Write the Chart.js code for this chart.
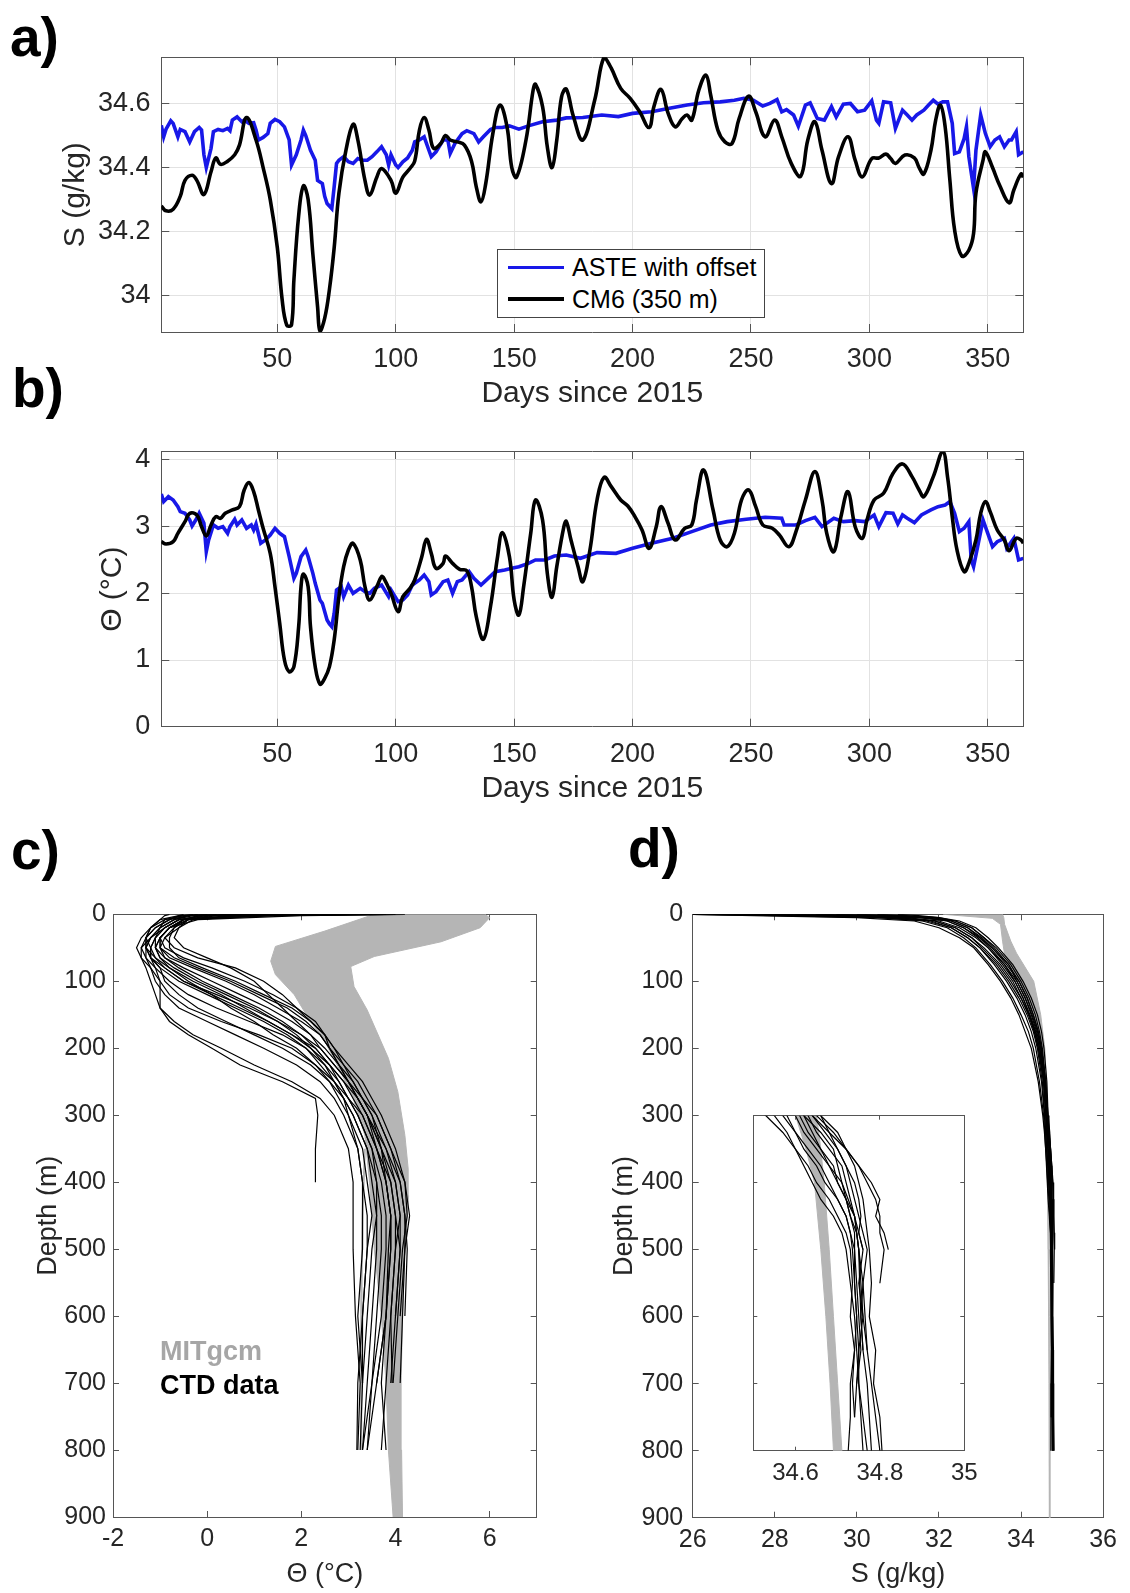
<!DOCTYPE html>
<html>
<head>
<meta charset="utf-8">
<title>ASTE / CM6 / CTD comparison</title>
<script src="https://cdn.jsdelivr.net/npm/chart.js@4.4.1/dist/chart.umd.min.js"></script>
<style>
  html, body { margin: 0; padding: 0; background: #fff; }
  body { position: relative; width: 1130px; height: 1593px; overflow: hidden;
         font-family: "Liberation Sans", Arial, Helvetica, sans-serif; color: #000; }
  canvas { position: absolute; }
  .tag { position: absolute; z-index: 5; font-weight: bold; font-size: 55px; line-height: 55px; }
  .legend { position: absolute; z-index: 5; left: 497px; top: 249px; width: 266px; height: 67px;
            border: 1px solid #444; background: #fff; font-size: 25px; }
  .legend .swatch { position: absolute; left: 10px; width: 56px; height: 3.5px; }
  .legend .label { position: absolute; left: 74px; line-height: 30px; white-space: nowrap; }
  .note { position: absolute; z-index: 5; left: 160px; font-weight: bold; font-size: 27px; line-height: 27px; }
</style>
</head>
<body>
<canvas id="panelA"></canvas>
<canvas id="panelB"></canvas>
<canvas id="panelC"></canvas>
<canvas id="panelD"></canvas>
<canvas id="panelInset"></canvas>

<div class="tag" style="left:10px;top:10px">a)</div>
<div class="tag" style="left:12px;top:361px">b)</div>
<div class="tag" style="left:11px;top:823px">c)</div>
<div class="tag" style="left:628px;top:821px">d)</div>

<div class="legend">
  <div class="swatch" style="top:15.6px;background:#1818e8"></div>
  <div class="label" style="top:2.4px">ASTE with offset</div>
  <div class="swatch" style="top:47.2px;background:#000"></div>
  <div class="label" style="top:34px">CM6 (350 m)</div>
</div>

<div class="note" style="top:1338px;color:#a6a6a6">MITgcm</div>
<div class="note" style="top:1372px;color:#000">CTD data</div>

<script>
// ---- tick labels ----
const dayTicks = [50, 100, 150, 200, 250, 300, 350];
const salTicks = [34, 34.2, 34.4, 34.6];
const thetaTicks = [0, 1, 2, 3, 4];
const depthTicks = [0, 100, 200, 300, 400, 500, 600, 700, 800, 900];
const profThetaTicks = [-2, 0, 2, 4, 6];
const profSalTicks = [26, 28, 30, 32, 34, 36];
const insetSalTicks = [34.6, 34.8, 35];
const insetDepthTicks = [300, 400, 500, 600, 700, 800];

// ---- a) salinity time series ----
const asteSalDay = [1, 2, 3, 5, 6, 8, 9, 11, 12, 13, 15, 17, 18, 19, 20, 22, 23, 25, 27, 29, 30, 31, 33, 35, 36, 38, 40, 41, 42, 44, 46, 47, 49, 51, 53, 55, 56, 58, 60, 61, 62, 64, 66, 67, 69, 70, 71, 73, 74, 75, 76, 78, 80, 82, 84, 86, 88, 90, 92, 94, 96, 97, 98, 100, 101, 103, 105, 107, 108, 110, 112, 114, 115, 117, 120, 122, 123, 125, 128, 130, 133, 135, 137, 140, 142, 145, 148, 152, 156, 162, 168, 172, 179, 187, 194, 200, 208, 215, 223, 230, 237, 243, 247, 251, 255, 258, 261, 263, 265, 268, 270, 273, 275, 278, 281, 284, 286, 289, 292, 295, 298, 301, 303, 304, 306, 309, 311, 314, 316, 318, 320, 323, 325, 327, 329, 331, 333, 335, 336, 338, 340, 341, 342, 344, 345, 347, 349, 351, 353, 355, 357, 359, 360, 362, 363, 365];
const asteSal = [34.532, 34.496, 34.52, 34.546, 34.538, 34.496, 34.519, 34.512, 34.496, 34.48, 34.512, 34.525, 34.517, 34.44, 34.40, 34.46, 34.512, 34.519, 34.515, 34.522, 34.515, 34.548, 34.558, 34.543, 34.548, 34.538, 34.54, 34.517, 34.486, 34.494, 34.506, 34.538, 34.55, 34.543, 34.527, 34.486, 34.408, 34.44, 34.486, 34.517, 34.50, 34.454, 34.423, 34.36, 34.35, 34.31, 34.288, 34.272, 34.34, 34.413, 34.423, 34.434, 34.418, 34.413, 34.428, 34.423, 34.423, 34.434, 34.449, 34.465, 34.44, 34.408, 34.44, 34.408, 34.40, 34.418, 34.43, 34.454, 34.48, 34.486, 34.496, 34.454, 34.434, 34.449, 34.486, 34.486, 34.444, 34.475, 34.506, 34.515, 34.506, 34.48, 34.496, 34.519, 34.525, 34.525, 34.53, 34.52, 34.53, 34.543, 34.548, 34.555, 34.556, 34.564, 34.559, 34.569, 34.574, 34.584, 34.595, 34.602, 34.605, 34.61, 34.616, 34.61, 34.592, 34.60, 34.612, 34.574, 34.581, 34.564, 34.529, 34.595, 34.602, 34.553, 34.548, 34.59, 34.558, 34.598, 34.60, 34.574, 34.579, 34.608, 34.548, 34.538, 34.605, 34.602, 34.522, 34.579, 34.564, 34.548, 34.564, 34.579, 34.595, 34.61, 34.598, 34.605, 34.605, 34.538, 34.444, 34.449, 34.49, 34.527, 34.434, 34.335, 34.454, 34.564, 34.506, 34.465, 34.486, 34.496, 34.465, 34.486, 34.486, 34.512, 34.44, 34.449];

const cm6SalDay = [1, 3, 6, 9, 11, 14, 16, 19, 22, 24, 26, 29, 32, 34, 37, 41, 44, 47, 50, 52, 54, 56, 57, 59, 61, 63, 65, 67, 68, 70, 72, 74, 76, 79, 82, 84, 87, 89, 92, 94, 98, 100, 103, 106, 108, 110, 112, 114, 116, 119, 121, 123, 126, 129, 132, 134, 136, 138, 141, 144, 147, 149, 151, 155, 158, 159, 162, 164, 166, 168, 170, 172, 175, 179, 184, 188, 191, 195, 199, 203, 207, 209, 212, 215, 218, 221, 223, 225, 228, 231, 233, 236, 239, 242, 245, 249, 252, 256, 260, 263, 267, 271, 274, 277, 280, 284, 287, 291, 294, 297, 301, 304, 307, 309, 311, 315, 319, 321, 323, 326, 328, 330, 332, 334, 336, 339, 342, 344, 345, 348, 349, 352, 355, 359, 361, 364, 365];
const cm6Sal = [34.28, 34.265, 34.27, 34.31, 34.36, 34.376, 34.36, 34.316, 34.387, 34.43, 34.41, 34.42, 34.44, 34.47, 34.556, 34.486, 34.40, 34.30, 34.15, 33.99, 33.908, 33.91, 34.05, 34.25, 34.343, 34.30, 34.13, 33.965, 33.89, 33.93, 34.02, 34.15, 34.32, 34.455, 34.535, 34.486, 34.36, 34.314, 34.37, 34.397, 34.36, 34.32, 34.37, 34.397, 34.42, 34.517, 34.556, 34.517, 34.46, 34.475, 34.50, 34.486, 34.48, 34.47, 34.42, 34.34, 34.293, 34.35, 34.506, 34.595, 34.527, 34.40, 34.37, 34.486, 34.641, 34.66, 34.59, 34.465, 34.40, 34.486, 34.62, 34.645, 34.56, 34.486, 34.61, 34.745, 34.71, 34.647, 34.616, 34.574, 34.525, 34.59, 34.644, 34.57, 34.527, 34.553, 34.564, 34.548, 34.642, 34.688, 34.626, 34.517, 34.48, 34.475, 34.553, 34.623, 34.574, 34.496, 34.548, 34.496, 34.413, 34.373, 34.486, 34.543, 34.454, 34.35, 34.434, 34.496, 34.423, 34.371, 34.428, 34.43, 34.442, 34.428, 34.413, 34.439, 34.43, 34.40, 34.38, 34.454, 34.548, 34.595, 34.527, 34.36, 34.205, 34.124, 34.142, 34.194, 34.32, 34.423, 34.449, 34.40, 34.345, 34.29, 34.33, 34.38, 34.37];

// ---- b) potential temperature time series ----
const asteThetaDay = [1, 2, 4, 6, 8, 9, 11, 13, 14, 16, 17, 19, 20, 21, 23, 25, 27, 29, 30, 32, 33, 35, 37, 39, 40, 41, 43, 45, 47, 49, 51, 53, 55, 57, 58, 60, 62, 63, 65, 66, 68, 69, 71, 72, 73, 74, 75, 77, 78, 80, 82, 85, 87, 89, 91, 94, 97, 98, 101, 103, 105, 107, 110, 112, 114, 115, 117, 120, 122, 124, 126, 128, 131, 133, 136, 139, 142, 146, 149, 152, 156, 159, 163, 167, 172, 178, 185, 193, 200, 208, 217, 225, 233, 240, 248, 256, 263, 264, 269, 273, 277, 280, 285, 289, 294, 298, 302, 304, 307, 310, 312, 314, 316, 319, 322, 326, 329, 332, 334, 336, 338, 340, 342, 343, 344, 346, 348, 350, 352, 354, 357, 358, 361, 363, 365];
const asteTheta = [3.49, 3.375, 3.45, 3.4, 3.3, 3.225, 3.2, 3.1, 3.01, 3.125, 3.2, 3.05, 2.625, 2.8, 3.025, 2.975, 3.0, 2.9, 3.0, 3.11, 3.025, 3.1, 2.975, 3.025, 2.95, 3.04, 2.75, 2.8, 2.875, 2.975, 2.9, 2.85, 2.55, 2.225, 2.3, 2.55, 2.65, 2.55, 2.3, 2.15, 1.9, 1.85, 1.6, 1.54, 1.5, 1.7, 2.05, 2.1, 1.95, 2.125, 2.0, 2.075, 2.025, 2.0, 2.075, 2.125, 1.95, 2.05, 1.875, 1.9, 1.975, 2.125, 2.2, 2.275, 2.175, 1.975, 2.025, 2.175, 2.2, 2.0, 2.175, 2.2, 2.325, 2.225, 2.125, 2.225, 2.325, 2.35, 2.375, 2.4, 2.45, 2.5, 2.5, 2.56, 2.575, 2.525, 2.61, 2.6, 2.675, 2.75, 2.825, 2.925, 3.025, 3.075, 3.11, 3.14, 3.125, 3.025, 3.025, 3.09, 3.14, 3.0, 3.125, 3.075, 3.09, 3.075, 3.175, 3.0, 3.21, 3.2, 3.04, 3.175, 3.125, 3.06, 3.175, 3.25, 3.3, 3.325, 3.375, 3.2, 2.925, 2.975, 3.075, 2.5, 2.4, 2.75, 3.1, 2.9, 2.7, 2.775, 2.825, 2.675, 2.825, 2.5, 2.525];

const cm6ThetaDay = [1, 3, 6, 8, 11, 13, 16, 18, 20, 22, 24, 26, 28, 31, 34, 36, 38, 40, 42, 44, 47, 49, 51, 53, 55, 57, 59, 60, 61, 63, 64, 66, 68, 70, 72, 74, 76, 78, 80, 82, 85, 87, 89, 92, 94, 95, 98, 101, 103, 106, 108, 111, 113, 115, 117, 120, 121, 124, 127, 130, 132, 134, 137, 140, 143, 145, 148, 150, 152, 154, 157, 159, 162, 164, 166, 168, 171, 172, 174, 177, 179, 182, 185, 188, 191, 195, 198, 201, 204, 207, 210, 212, 215, 218, 222, 225, 227, 230, 234, 237, 240, 243, 246, 249, 252, 255, 259, 262, 266, 269, 273, 277, 280, 282, 285, 288, 291, 294, 297, 299, 302, 306, 310, 314, 318, 321, 323, 327, 331, 333, 335, 337, 340, 342, 345, 347, 349, 351, 354, 357, 359, 362, 364, 365];
const cm6Theta = [2.775, 2.74, 2.775, 2.9, 3.075, 3.2, 3.175, 3.0, 2.86, 3.025, 3.15, 3.125, 3.2, 3.25, 3.3, 3.55, 3.66, 3.525, 3.25, 2.975, 2.6, 2.1, 1.55, 1.0, 0.825, 0.9, 1.5, 2.1, 2.29, 2.1, 1.5, 0.9, 0.64, 0.725, 0.9, 1.3, 1.95, 2.4, 2.65, 2.75, 2.5, 2.1, 1.9, 2.1, 2.25, 2.225, 2.0, 1.725, 1.95, 2.075, 2.2, 2.55, 2.81, 2.6, 2.375, 2.45, 2.56, 2.45, 2.36, 2.34, 2.1, 1.65, 1.31, 1.8, 2.55, 2.91, 2.55, 1.9, 1.675, 2.1, 2.9, 3.4, 3.1, 2.3, 1.94, 2.4, 3.0, 3.08, 2.8, 2.4, 2.175, 2.65, 3.4, 3.74, 3.6, 3.4, 3.31, 3.15, 2.95, 2.675, 3.0, 3.3, 3.05, 2.8, 2.975, 3.025, 3.4, 3.85, 3.25, 2.8, 2.7, 2.9, 3.4, 3.55, 3.3, 3.025, 2.975, 2.875, 2.7, 2.925, 3.4, 3.825, 3.4, 2.9, 2.625, 3.15, 3.525, 3.0, 2.825, 3.1, 3.4, 3.5, 3.8, 3.94, 3.75, 3.55, 3.45, 3.75, 4.125, 3.75, 3.15, 2.65, 2.325, 2.45, 2.8, 3.2, 3.375, 3.225, 2.95, 2.8, 2.64, 2.825, 2.8, 2.75];

// ---- c) temperature profiles ----
// MITgcm envelope (left edge top->bottom, right edge bottom->top)
const mitThetaLeft = [3.55, 2.5, 1.45, 1.35, 1.45, 1.85, 2.15, 2.5, 2.8, 3.1, 3.35, 3.45, 3.55, 3.7, 3.8, 3.85, 3.95];
const mitThetaLeftDepth = [0, 25, 48, 70, 90, 120, 155, 190, 230, 275, 330, 400, 500, 600, 700, 800, 900];
const mitThetaRight = [4.15, 4.13, 4.12, 4.15, 4.2, 4.28, 4.27, 4.2, 4.05, 3.85, 3.4, 3.12, 3.05, 3.55, 4.97, 5.8, 6.0, 5.9];
const mitThetaRightDepth = [900, 800, 700, 600, 500, 420, 380, 330, 265, 215, 143, 108, 78, 63, 41, 20, 5, 0];
const mitThetaThin = [3.35, 3.3, 3.28, 3.27, 3.27, 3.28];
const mitThetaThinDepth = [350, 450, 550, 650, 750, 800];

const ctdThetaDepth = [0, 2, 8, 20, 35, 50, 65, 80, 100, 120, 140, 160, 180, 200, 225, 250, 275, 300, 350, 400, 450, 500, 600, 700, 800];
const ctdTheta = [
  [4.0, 1.5, -0.5, -0.8, -1.0, -1.1, -1.0, -0.7, -0.2, 0.4, 1.0, 1.5, 1.9, 2.2, 2.5, 2.8, 3.0, 3.2, 3.5, 3.7, 3.8, 3.8, 3.7, 3.5, 3.3],
  [3.0, 0.8, -0.6, -0.9, -1.2, -1.3, -1.2, -1.0, -0.6, 0.0, 0.6, 1.2, 1.7, 2.1, 2.4, 2.7, 2.9, 3.1, 3.4, 3.6, 3.6, 3.5, 3.4, 3.3, null],
  [2.0, 0.2, -0.4, -0.6, -0.7, -0.5, 0.0, 0.5, 1.0, 1.3, 1.6, 1.9, 2.2, 2.4, 2.7, 3.0, 3.3, 3.6, 3.9, 4.2, 4.3, 4.2, 4.15, 4.1, null],
  [1.0, -0.3, -0.7, -1.0, -1.2, -1.4, -1.4, -1.3, -1.2, -1.1, -1.0, -0.7, -0.3, 0.3, 1.0, 1.8, 2.4, 2.7, 3.0, 3.1, 3.1, 3.1, 3.15, 3.25, 3.2],
  [0.5, -0.2, -0.5, -0.8, -1.0, -0.9, -0.5, 0.1, 0.8, 1.4, 1.9, 2.3, 2.5, 2.6, 2.8, 3.1, 3.3, 3.5, 3.8, 4.0, 4.1, 4.0, 3.9, 3.93, null],
  [-0.5, -0.6, -0.8, -1.1, -1.3, -1.4, -1.3, -1.1, -0.8, -0.4, 0.2, 0.9, 1.6, 2.1, 2.5, 2.7, 2.9, 3.0, 3.3, 3.4, 3.5, 3.4, 3.3, 3.2, 3.18],
  [3.5, 1.0, -0.3, -0.6, -0.9, -1.0, -0.8, -0.3, 0.4, 1.0, 1.5, 2.0, 2.4, 2.6, 2.9, 3.2, 3.4, 3.6, 3.9, 4.1, 4.2, 4.2, 4.1, null, null],
  [0.0, -0.5, -0.9, -1.0, -1.1, -1.2, -1.2, -1.1, -1.0, -1.0, -1.0, -0.8, -0.4, 0.1, 0.7, 1.6, 2.3, 2.35, 2.3, 2.3, null, null, null, null, null],
  [1.5, 0.0, -0.6, -0.9, -1.1, -1.1, -0.9, -0.6, -0.1, 0.5, 1.1, 1.6, 2.0, 2.3, 2.6, 2.9, 3.1, 3.3, 3.6, 3.8, 3.9, 3.9, 3.8, 3.7, 3.8],
  [-0.2, -0.4, -0.7, -1.0, -1.2, -1.3, -1.1, -0.8, -0.3, 0.3, 0.8, 1.3, 1.8, 2.2, 2.6, 2.9, 3.2, 3.4, 3.7, 3.9, 4.0, 4.1, 4.0, null, null],
  [2.5, 0.5, -0.5, -0.7, -0.9, -0.7, -0.2, 0.6, 1.2, 1.6, 1.9, 2.2, 2.5, 2.7, 2.9, 3.1, 3.3, 3.5, 3.7, 3.8, 3.9, 3.9, 3.8, 3.6, 3.4],
  [0.2, -0.6, -1.0, -1.2, -1.3, -1.2, -1.2, -1.0, -0.9, -0.6, -0.2, 0.4, 1.0, 1.6, 2.2, 2.6, 2.9, 3.1, 3.4, 3.5, 3.6, 3.6, 3.5, 3.4, 3.3],
  [4.2, 2.0, -0.2, -0.8, -1.0, -1.0, -0.9, -0.5, 0.1, 0.7, 1.3, 1.8, 2.2, 2.5, 2.8, 3.0, 3.2, 3.4, 3.8, 4.1, 4.2, 4.25, 4.2, null, null],
  [-0.8, -0.9, -1.0, -1.2, -1.4, -1.5, -1.4, -1.2, -1.1, -0.9, -0.6, 0.0, 0.6, 1.2, 1.9, 2.4, 2.7, 2.9, 3.2, 3.3, 3.3, 3.3, 3.2, 3.3, null],
  [1.2, -0.1, -0.6, -0.9, -1.1, -1.2, -1.1, -0.9, -0.5, 0.2, 0.9, 1.5, 2.0, 2.4, 2.7, 3.0, 3.2, 3.4, 3.6, 3.8, 3.9, 3.85, 3.8, 3.6, null],
  [2.8, 0.6, -0.4, -0.8, -1.0, -1.0, -0.7, -0.2, 0.5, 1.1, 1.7, 2.1, 2.4, 2.6, 2.8, 3.0, 3.2, 3.4, 3.7, 4.0, 4.1, 4.1, 4.0, 3.9, null],
  [0.8, -0.4, -0.8, -1.1, -1.3, -1.3, -1.3, -1.2, -1.0, -0.8, -0.4, 0.3, 1.1, 1.8, 2.3, 2.6, 2.8, 3.0, 3.2, 3.3, 3.4, 3.4, 3.3, 3.3, 3.25],
  [3.8, 1.2, -0.4, -0.7, -0.8, -0.8, -0.6, -0.1, 0.6, 1.2, 1.8, 2.2, 2.5, 2.7, 3.0, 3.3, 3.5, 3.7, 4.0, 4.2, 4.25, 4.15, 4.05, 3.95, null],
  [-0.3, -0.5, -0.9, -1.2, -1.3, -1.3, -1.2, -0.9, -0.5, 0.1, 0.7, 1.3, 1.8, 2.3, 2.6, 2.8, 3.0, 3.2, 3.5, 3.6, 3.7, 3.7, 3.6, 3.5, 3.4],
  [1.8, 0.1, -0.5, -0.8, -1.0, -1.1, -1.0, -0.8, -0.4, 0.1, 0.5, 1.0, 1.4, 1.9, 2.3, 2.7, 3.0, 3.3, 3.6, 3.9, 4.0, 4.0, 3.9, 3.8, 3.7]
];

// ---- d) salinity profiles ----
const mitSalLeft = [32.1, 33.3, 33.5, 33.55, 33.6, 33.97, 34.23, 34.4, 34.52, 34.6, 34.625, 34.645, 34.66, 34.672, 34.682, 34.69, 34.695];
const mitSalLeftDepth = [0, 6, 15, 40, 60, 100, 150, 200, 250, 300, 350, 400, 500, 600, 700, 800, 900];
const mitSalRight = [34.715, 34.71, 34.70, 34.69, 34.68, 34.668, 34.66, 34.65, 34.62, 34.58, 34.48, 34.31, 33.89, 33.75, 33.6, 33.58, 33.55];
const mitSalRightDepth = [900, 800, 700, 600, 500, 400, 350, 300, 250, 200, 150, 100, 58, 40, 15, 5, 0];

const ctdSalDepth = [0, 2, 5, 10, 20, 35, 50, 75, 100, 125, 150, 175, 200, 250, 300, 325, 350, 375, 400, 425, 450, 475, 500, 550, 600, 650, 700, 750, 800];
const ctdSal = [
  [26.0, 28.5, 30.8, 31.8, 32.3, 32.7, 33.0, 33.4, 33.7, 33.95, 34.15, 34.3, 34.4, 34.52, 34.58, 34.6, 34.63, 34.66, 34.68, 34.7, 34.72, 34.73, 34.735, 34.74, 34.745, 34.74, 34.73, 34.73, 34.725],
  [27.0, 29.5, 31.2, 32.0, 32.5, 32.9, 33.2, 33.55, 33.85, 34.05, 34.2, 34.35, 34.45, 34.56, 34.62, 34.64, 34.66, 34.69, 34.7, 34.72, 34.74, 34.75, 34.76, 34.75, 34.76, 34.77, 34.78, 34.79, 34.80],
  [28.0, 30.0, 31.5, 32.2, 32.6, 33.0, 33.3, 33.65, 33.95, 34.15, 34.3, 34.42, 34.5, 34.6, 34.66, 34.68, 34.7, 34.72, 34.73, 34.74, 34.75, 34.76, 34.77, 34.76, 34.765, 34.77, null, null, null],
  [26.5, 28.0, 30.5, 31.6, 32.2, 32.6, 32.9, 33.25, 33.55, 33.8, 34.0, 34.18, 34.3, 34.45, 34.55, 34.58, 34.6, 34.63, 34.65, 34.68, 34.7, 34.72, 34.73, 34.735, 34.73, 34.74, 34.735, 34.74, null],
  [29.0, 30.5, 31.8, 32.4, 32.8, 33.1, 33.4, 33.75, 34.0, 34.2, 34.35, 34.45, 34.52, 34.6, 34.64, 34.68, 34.72, 34.75, 34.78, 34.8, 34.79, 34.81, 34.82, null, null, null, null, null, null],
  [30.0, 31.0, 31.9, 32.3, 32.7, 33.05, 33.3, 33.7, 33.9, 34.1, 34.25, 34.38, 34.48, 34.58, 34.64, 34.67, 34.7, 34.72, 34.74, 34.75, 34.755, 34.75, 34.76, null, null, null, null, null, null],
  [26.0, 27.5, 30.0, 31.4, 32.0, 32.5, 32.85, 33.2, 33.5, 33.75, 33.95, 34.1, 34.25, 34.42, 34.53, 34.57, 34.6, 34.62, 34.64, 34.66, 34.69, 34.71, 34.72, 34.73, 34.74, 34.745, 34.75, 34.76, 34.77],
  [31.0, 31.5, 32.0, 32.5, 32.9, 33.2, 33.45, 33.8, 34.05, 34.25, 34.4, 34.5, 34.56, 34.63, 34.66, 34.7, 34.72, 34.74, 34.75, 34.76, 34.765, 34.77, 34.775, 34.78, 34.775, 34.79, 34.785, 34.8, 34.805],
  [27.5, 29.0, 31.0, 31.9, 32.4, 32.8, 33.1, 33.5, 33.8, 34.0, 34.18, 34.32, 34.42, 34.55, 34.6, 34.62, 34.65, 34.68, 34.7, 34.72, 34.73, 34.74, 34.74, 34.745, 34.75, 34.755, 34.745, 34.74, null],
  [28.5, 30.2, 31.6, 32.3, 32.7, 33.0, 33.25, 33.6, 33.9, 34.1, 34.27, 34.4, 34.48, 34.58, 34.63, 34.65, 34.68, 34.71, 34.72, 34.73, 34.74, 34.745, 34.75, 34.755, 34.76, 34.75, 34.745, null, null],
  [26.0, 29.0, 31.0, 31.9, 32.4, 32.8, 33.05, 33.45, 33.75, 34.0, 34.2, 34.33, 34.43, 34.55, 34.61, 34.63, 34.66, 34.68, 34.71, 34.72, 34.73, 34.745, 34.75, 34.76, 34.755, 34.76, 34.77, 34.775, 34.78],
  [29.5, 30.8, 31.7, 32.2, 32.6, 32.95, 33.2, 33.6, 33.85, 34.05, 34.22, 34.36, 34.46, 34.57, 34.62, 34.66, 34.69, 34.7, 34.71, 34.725, 34.74, 34.745, 34.75, 34.752, 34.755, 34.76, null, null, null],
  [27.0, 28.8, 30.6, 31.7, 32.3, 32.7, 33.0, 33.35, 33.65, 33.9, 34.1, 34.25, 34.36, 34.5, 34.57, 34.6, 34.62, 34.65, 34.67, 34.7, 34.72, 34.73, 34.74, 34.74, 34.745, 34.75, 34.75, 34.755, 34.76],
  [30.5, 31.2, 32.0, 32.4, 32.8, 33.1, 33.35, 33.7, 33.95, 34.15, 34.3, 34.42, 34.5, 34.6, 34.65, 34.69, 34.72, 34.75, 34.77, 34.79, 34.8, 34.8, 34.81, 34.8, null, null, null, null, null]
];

// ---- styling ----
const FONT = '"Liberation Sans", Arial, Helvetica, sans-serif';
const TEXT = "#262626";
const AXIS = "#555555";
const GRID = "#e2e2e2";
const BLUE = "#1818e8";
const MIT_GRAY = "#b5b5b5";

function setTicks(list) {
  return (scale) => {
    scale.ticks = list.map((v) => ({ value: v }));
  };
}

function series(xs, ys, color, width, tension, order) {
  return {
    data: xs.map((x, i) => ({ x: x, y: ys[i] })),
    showLine: true,
    borderColor: color,
    borderWidth: width,
    pointRadius: 0,
    tension: tension,
    fill: false,
    order: order,
  };
}

function profile(depths, vals, color, width, order) {
  const pts = [];
  depths.forEach((d, i) => {
    if (vals[i] !== null) pts.push({ x: vals[i], y: d });
  });
  return {
    data: pts,
    showLine: true,
    borderColor: color,
    borderWidth: width,
    pointRadius: 0,
    tension: 0,
    fill: false,
    order: order,
  };
}

function band(lx, ld, rx, rd, color, order) {
  const pts = lx.map((x, i) => ({ x: x, y: ld[i] }))
    .concat(rx.map((x, i) => ({ x: x, y: rd[i] })));
  return {
    data: pts,
    showLine: true,
    fill: "shape",
    backgroundColor: color,
    borderColor: color,
    borderWidth: 1,
    pointRadius: 0,
    tension: 0,
    order: order,
  };
}

const whiteArea = {
  id: "whiteArea",
  beforeDraw(chart) {
    const a = chart.chartArea;
    const ctx = chart.ctx;
    ctx.save();
    ctx.fillStyle = "#fff";
    ctx.fillRect(a.left, a.top, a.right - a.left, a.bottom - a.top);
    ctx.restore();
  },
};

function makeChart(id, o) {
  const b = o.box, p = o.plot;
  const canvas = document.getElementById(id);
  canvas.width = b.width;
  canvas.height = b.height;
  canvas.style.left = b.left + "px";
  canvas.style.top = b.top + "px";
  canvas.style.width = b.width + "px";
  canvas.style.height = b.height + "px";

  const yW = p.L - b.left;
  const xH = b.top + b.height - p.B;
  const lh = o.titleSize * 1.2;
  const tickFont = { family: FONT, size: o.tickSize };
  const titleFont = { family: FONT, size: o.titleSize };

  const grid = (onArea) => ({
    display: true,
    drawOnChartArea: onArea,
    color: GRID,
    lineWidth: 1,
    tickColor: AXIS,
    tickWidth: 1,
    tickLength: o.tickLen,
  });
  const border = { display: true, color: AXIS, width: 1 };

  const scales = {
    x: {
      type: "linear",
      position: "bottom",
      min: o.xMin,
      max: o.xMax,
      afterBuildTicks: setTicks(o.xTicks),
      afterFit: (s) => { s.height = xH; },
      ticks: {
        display: true,
        autoSkip: false,
        maxRotation: 0,
        padding: o.xPad,
        color: TEXT,
        font: tickFont,
        callback: (v) => String(v),
      },
      grid: grid(o.grid),
      border: border,
      title: o.xTitle
        ? {
            display: true,
            text: o.xTitle,
            color: TEXT,
            font: titleFont,
            padding: { top: 0, bottom: b.top + b.height - o.xTitleY - lh / 2 },
          }
        : { display: false },
    },
    x2: {
      type: "linear",
      position: "top",
      min: o.xMin,
      max: o.xMax,
      afterBuildTicks: setTicks(o.xTicks),
      afterFit: (s) => { s.height = 0; },
      ticks: { display: false },
      grid: grid(false),
      border: border,
    },
    y: {
      type: "linear",
      position: "left",
      min: o.yMin,
      max: o.yMax,
      reverse: !!o.yReverse,
      afterBuildTicks: setTicks(o.yTicks),
      afterFit: (s) => { s.width = yW; },
      ticks: {
        display: o.yLabels !== false,
        autoSkip: false,
        padding: o.yPad,
        color: TEXT,
        font: tickFont,
        callback: (v) => String(v),
      },
      grid: grid(o.grid),
      border: border,
      title: o.yTitle
        ? {
            display: true,
            text: o.yTitle,
            color: TEXT,
            font: titleFont,
            padding: { top: o.yTitleX - b.left - lh / 2, bottom: 0 },
          }
        : { display: false },
    },
    y2: {
      type: "linear",
      position: "right",
      min: o.yMin,
      max: o.yMax,
      reverse: !!o.yReverse,
      afterBuildTicks: setTicks(o.yTicks),
      afterFit: (s) => { s.width = 0; },
      ticks: { display: false },
      grid: grid(false),
      border: border,
    },
  };

  return new Chart(canvas.getContext("2d"), {
    type: "scatter",
    data: { datasets: o.datasets },
    options: {
      responsive: false,
      animation: false,
      devicePixelRatio: 1,
      layout: {
        padding: { top: p.T - b.top, right: b.left + b.width - p.R, bottom: 0, left: 0 },
      },
      plugins: { legend: { display: false }, tooltip: { enabled: false } },
      scales: scales,
    },
    plugins: o.whiteBg ? [whiteArea] : [],
  });
}

// a) salinity
makeChart("panelA", {
  box: { left: 0, top: 0, width: 1060, height: 425 },
  plot: { L: 161.3, T: 57.3, R: 1023.3, B: 332 },
  xMin: 1, xMax: 365, yMin: 33.887, yMax: 34.744,
  xTicks: dayTicks, yTicks: salTicks,
  grid: true, tickLen: -8, tickSize: 27, titleSize: 30,
  xPad: 19.8, yPad: 18.8,
  xTitle: "Days since 2015", xTitleY: 394,
  yTitle: "S (g/kg)", yTitleX: 75.5,
  datasets: [
    series(cm6SalDay, cm6Sal, "#000", 3.6, 0.4, 1),
    series(asteSalDay, asteSal, BLUE, 3.6, 0, 2),
  ],
});

// b) potential temperature
makeChart("panelB", {
  box: { left: 0, top: 400, width: 1060, height: 420 },
  plot: { L: 161.3, T: 451.7, R: 1023.3, B: 726.7 },
  xMin: 1, xMax: 365, yMin: 0, yMax: 4.124,
  xTicks: dayTicks, yTicks: thetaTicks,
  grid: true, tickLen: -8, tickSize: 27, titleSize: 30,
  xPad: 19.8, yPad: 19,
  xTitle: "Days since 2015", xTitleY: 788.7,
  yTitle: "Θ (°C)", yTitleX: 113,
  datasets: [
    series(cm6ThetaDay, cm6Theta, "#000", 3.6, 0.4, 1),
    series(asteThetaDay, asteTheta, BLUE, 3.6, 0, 2),
  ],
});

// c) temperature profiles
makeChart("panelC", {
  box: { left: 0, top: 880, width: 560, height: 713 },
  plot: { L: 113, T: 914.3, R: 536.7, B: 1517 },
  xMin: -2, xMax: 7, yMin: 0, yMax: 900, yReverse: true,
  xTicks: profThetaTicks, yTicks: depthTicks,
  grid: false, tickLen: -6, tickSize: 25, titleSize: 27,
  xPad: 13, yPad: 13,
  xTitle: "Θ (°C)", xTitleY: 1575,
  yTitle: "Depth (m)", yTitleX: 49,
  datasets: ctdTheta.map((t) => profile(ctdThetaDepth, t, "#000", 1.2, 1))
    .concat([
      profile(mitThetaThinDepth, mitThetaThin, MIT_GRAY, 2, 4),
      band(mitThetaLeft, mitThetaLeftDepth, mitThetaRight, mitThetaRightDepth, MIT_GRAY, 5),
    ]),
});

// d) salinity profiles
const salDatasets = () => ctdSal.map((s) => profile(ctdSalDepth, s, "#000", 1.2, 1))
  .concat([band(mitSalLeft, mitSalLeftDepth, mitSalRight, mitSalRightDepth, MIT_GRAY, 5)]);

makeChart("panelD", {
  box: { left: 560, top: 880, width: 570, height: 713 },
  plot: { L: 692.7, T: 914.3, R: 1115.7, B: 1517.7 },
  xMin: 26, xMax: 36, yMin: 0, yMax: 900, yReverse: true,
  xTicks: profSalTicks, yTicks: depthTicks,
  grid: false, tickLen: -6, tickSize: 25, titleSize: 27,
  xPad: 13, yPad: 15.5,
  xTitle: "S (g/kg)", xTitleY: 1574.5,
  yTitle: "Depth (m)", yTitleX: 625,
  datasets: salDatasets(),
});

// inset of d)
makeChart("panelInset", {
  box: { left: 740, top: 1100, width: 250, height: 400 },
  plot: { L: 753.3, T: 1115.7, R: 964.7, B: 1450.7 },
  xMin: 34.5, xMax: 35, yMin: 300, yMax: 800, yReverse: true,
  xTicks: insetSalTicks, yTicks: insetDepthTicks, yLabels: false,
  grid: false, tickLen: -4, tickSize: 24, titleSize: 24,
  xPad: 12.4, yPad: 0,
  whiteBg: true,
  datasets: salDatasets(),
});
</script>
</body>
</html>
